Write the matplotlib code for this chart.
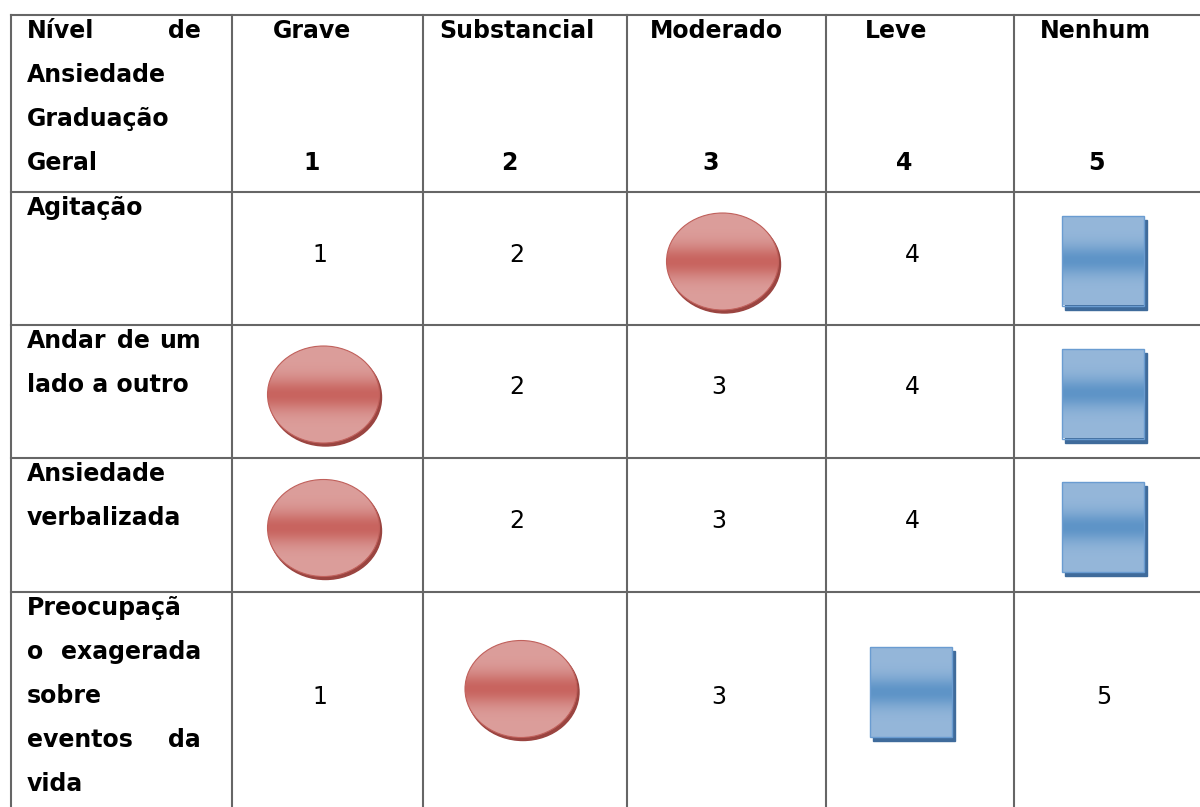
"""
Anxiety rating table - circles/squares mark the selected level per item.
"""

import matplotlib.pyplot as plt
import numpy as np
from matplotlib.patches import Ellipse, Rectangle
from matplotlib.colors import to_rgb

# --- data ---
levels = ["Grave", "Substancial", "Moderado", "Leve", "Nenhum"]
scores = [1, 2, 3, 4, 5]
header_lines = ["Nível de", "Ansiedade", "Graduação", "Geral"]
items = [
    ["Agitação"],
    ["Andar de um", "lado a outro"],
    ["Ansiedade", "verbalizada"],
    ["Preocupaçã", "o exagerada", "sobre", "eventos da", "vida"],
]
circle_choice = [3, 1, 1, 2]   # red ellipse
square_choice = [5, 5, 5, 4]   # blue square

# --- layout (pixels) ---
W, H = 1200, 807
col_edges = [11, 232, 423, 627, 826, 1014, 1210]
row_edges = [15, 192, 325, 458, 592, 810]
header_dx = [-16, -8, -10, -24, -17]
label_left, label_right = 27, 201
line_step = 44
FS = 17

fig = plt.figure(figsize=(W / 100, H / 100), dpi=100)
ax = fig.add_axes([0, 0, 1, 1])
ax.axis("off")
ax.set_xlim(0, W)
ax.set_ylim(H, 0)
renderer = fig.canvas.get_renderer()

# grid
for x in col_edges[:-1]:
    ax.plot([x, x], [row_edges[0], row_edges[-1]], color="#666666", lw=1.5, zorder=1)
for y in row_edges[:-1]:
    ax.plot([col_edges[0], col_edges[-1]], [y, y], color="#666666", lw=1.5, zorder=1)


def draw_line(line, y, justify):
    words = line.split()
    if not justify or len(words) < 2:
        ax.text(label_left, y, line, fontsize=FS, fontweight="bold", va="baseline", ha="left")
        return
    objs = [ax.text(0, y, w_, fontsize=FS, fontweight="bold", va="baseline", ha="left") for w_ in words]
    widths = [t.get_window_extent(renderer).width for t in objs]
    gap = (label_right - label_left - sum(widths)) / (len(words) - 1)
    x = label_left
    for t, wd in zip(objs, widths):
        t.set_x(x)
        x += wd + gap


def paragraph(lines, top):
    for i, line in enumerate(lines):
        draw_line(line, top + 23 + i * line_step, justify=(i < len(lines) - 1))


def vgrad(light, dark, n=80):
    t = np.linspace(0, 1, n)
    w = np.exp(-((t - 0.5) / 0.17) ** 2)
    lo, hi = np.array(to_rgb(light)), np.array(to_rgb(dark))
    return (lo[None, :] * (1 - w[:, None]) + hi[None, :] * w[:, None])[:, None, :]


def shaded(patch, shadow, light, dark, edge, box):
    ax.add_patch(shadow)
    ax.add_patch(patch)
    x0, x1, y0, y1 = box
    im = ax.imshow(vgrad(light, dark), extent=[x0, x1, y1, y0], aspect="auto",
                   interpolation="bilinear", zorder=3)
    im.set_clip_path(patch)
    patch.set_edgecolor(edge)
    patch.set_zorder(4)
    patch.set_facecolor("none")


# header
paragraph(header_lines, row_edges[0])
for j, (lvl, sc) in enumerate(zip(levels, scores)):
    cx = (col_edges[j + 1] + col_edges[j + 2]) / 2
    ax.text(cx + header_dx[j], row_edges[0] + 23, lvl, fontsize=FS, fontweight="bold",
            ha="center", va="baseline")
    ax.text(cx - 16, row_edges[0] + 23 + 3 * line_step, str(sc), fontsize=FS,
            fontweight="bold", ha="center", va="baseline")

# body rows
for i, lines in enumerate(items):
    top, bot = row_edges[i + 1], row_edges[i + 2]
    cy = (top + bot) / 2
    paragraph(lines, top)
    for j, sc in enumerate(scores):
        cx = (col_edges[j + 1] + col_edges[j + 2]) / 2
        if sc == circle_choice[i]:
            ew, eh = 112, 97
            ex, ey = cx - 4, min(cy + 3, top + 97)
            shaded(Ellipse((ex, ey), ew, eh, lw=0.8),
                   Ellipse((ex + 2, ey + 3), ew, eh, color="#9a4440", zorder=2),
                   "#dc9e9b", "#c8645f", "#c0605b",
                   (ex - ew / 2, ex + ew / 2, ey - eh / 2, ey + eh / 2))
        elif sc == square_choice[i]:
            sw, sh = 82, 90
            sx, sy = cx - 9 - sw / 2, min(cy + 2, top + 100) - sh / 2
            shaded(Rectangle((sx, sy), sw, sh, lw=1.0),
                   Rectangle((sx + 3, sy + 4), sw, sh, color="#3f6b9b", zorder=2),
                   "#95b7da", "#5e94c7", "#6a9cd1",
                   (sx, sx + sw, sy, sy + sh))
        else:
            ax.text(cx - 8, cy + 3, str(sc), fontsize=FS, ha="center", va="baseline")

ax.set_xlim(0, W)
ax.set_ylim(H, 0)
ax.set_aspect("auto")
fig.savefig("out.png", dpi=100, facecolor="white")
